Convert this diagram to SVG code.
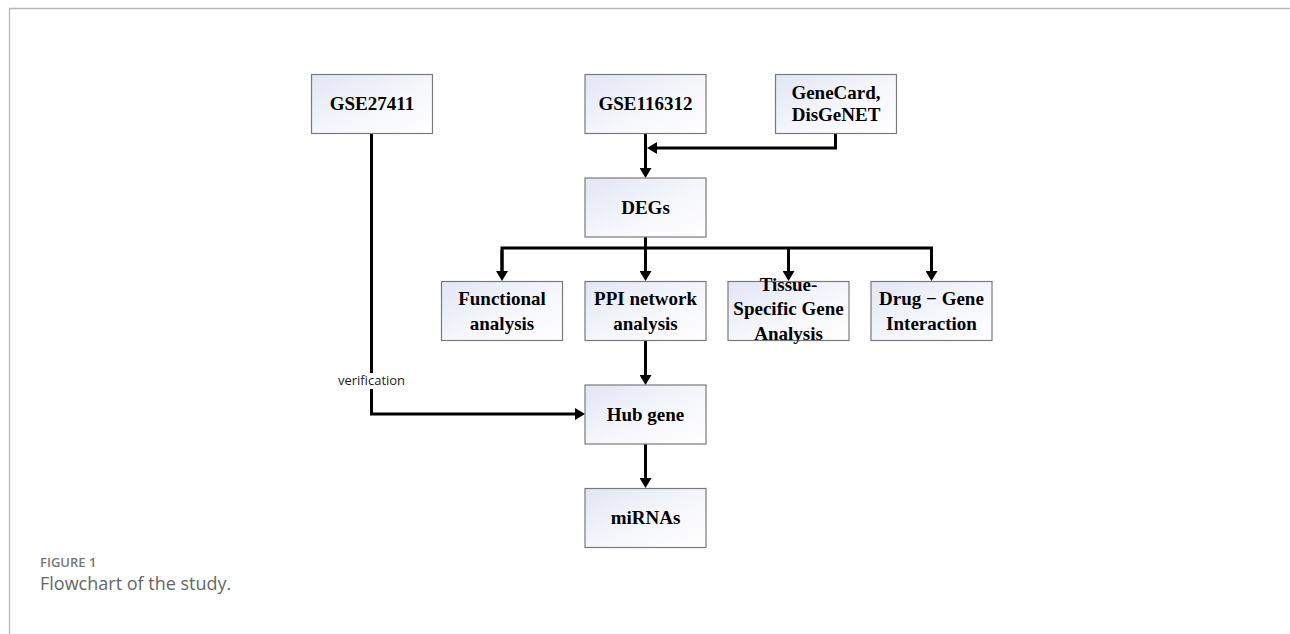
<svg xmlns="http://www.w3.org/2000/svg" width="1290" height="634" viewBox="0 0 1290 634">
  <defs>
    <linearGradient id="boxfill" x1="0" y1="0" x2="1" y2="1">
      <stop offset="0" stop-color="#e2e6f4"/>
      <stop offset="0.55" stop-color="#f6f7fc"/>
      <stop offset="1" stop-color="#ffffff"/>
    </linearGradient>
    <marker id="arrow" viewBox="0 0 10 12" refX="0" refY="6" markerWidth="10" markerHeight="12" markerUnits="userSpaceOnUse" orient="auto">
      <path d="M0,0 L10,6 L0,12 Z" fill="#000"/>
    </marker>
  </defs>
  <style>
    .box { fill: url(#boxfill); stroke: #7a7a7a; stroke-width: 1.2; }
    .lbl { font-family: "Liberation Serif", "Times New Roman", serif; font-weight: bold; font-size: 19px; fill: #000; text-anchor: middle; }
    .conn { fill: none; stroke: #000; stroke-width: 3; }
    .frame { fill: none; stroke: #b8b8b8; stroke-width: 1.3; }
    .note { font-family: "Open Sans", "Noto Sans", sans-serif; font-size: 13px; fill: #222; text-anchor: middle; }
    .fig { font-family: "Open Sans", "Noto Sans", sans-serif; font-size: 13px; font-weight: 600; fill: #777; }
    .cap { font-family: "Open Sans", "Noto Sans", sans-serif; font-size: 18px; fill: #666; }
  </style>
  <rect width="1290" height="634" fill="#ffffff"/>
  <path class="frame" d="M9.5,634 V8.5 H1290"/>

  <g id="connectors">
    <path class="conn" d="M645.5,133 V168" marker-end="url(#arrow)"/>
    <path class="conn" d="M835.5,133 V148 H657" marker-end="url(#arrow)"/>
    <path class="conn" d="M645.5,237 V248"/>
    <path class="conn" d="M502,271 V248 H931.5 V271" marker-end="url(#arrow)"/>
    <path class="conn" d="M502,250 V271" marker-end="url(#arrow)"/>
    <path class="conn" d="M645.5,248 V271" marker-end="url(#arrow)"/>
    <path class="conn" d="M788.5,248 V271" marker-end="url(#arrow)"/>
    <path class="conn" d="M645.5,341 V375" marker-end="url(#arrow)"/>
    <path class="conn" d="M645.5,444 V478" marker-end="url(#arrow)"/>
    <path class="conn" d="M371.5,133 V414 H575" marker-end="url(#arrow)"/>
    <rect x="336" y="373" width="71" height="16" fill="#ffffff"/>
    <text class="note" x="371.5" y="385">verification</text>
  </g>

  <g id="gse27411">
    <rect class="box" x="311.5" y="74.5" width="121" height="59"/>
    <text class="lbl" x="372" y="110">GSE27411</text>
  </g>
  <g id="gse116312">
    <rect class="box" x="585" y="74.5" width="121" height="59"/>
    <text class="lbl" x="645.5" y="110">GSE116312</text>
  </g>
  <g id="genecard">
    <rect class="box" x="775.5" y="74.5" width="121" height="59"/>
    <text class="lbl" x="836" y="99">GeneCard,</text>
    <text class="lbl" x="836" y="121">DisGeNET</text>
  </g>
  <g id="degs">
    <rect class="box" x="585" y="178" width="121" height="59"/>
    <text class="lbl" x="645.5" y="214">DEGs</text>
  </g>
  <g id="functional">
    <rect class="box" x="441.5" y="281.5" width="121" height="59"/>
    <text class="lbl" x="502" y="305">Functional</text>
    <text class="lbl" x="502" y="330">analysis</text>
  </g>
  <g id="ppi">
    <rect class="box" x="585" y="281.5" width="121" height="59"/>
    <text class="lbl" x="645.5" y="305">PPI network</text>
    <text class="lbl" x="645.5" y="330">analysis</text>
  </g>
  <g id="tissue">
    <rect class="box" x="728" y="281.5" width="121" height="59"/>
    <text class="lbl" x="788.5" y="291">Tissue-</text>
    <text class="lbl" x="788.5" y="315">Specific Gene</text>
    <text class="lbl" x="788.5" y="340">Analysis</text>
  </g>
  <g id="drug">
    <rect class="box" x="871" y="281.5" width="121" height="59"/>
    <text class="lbl" x="931.5" y="305">Drug − Gene</text>
    <text class="lbl" x="931.5" y="330">Interaction</text>
  </g>
  <g id="hubgene">
    <rect class="box" x="585" y="385" width="121" height="59"/>
    <text class="lbl" x="645.5" y="421">Hub gene</text>
  </g>
  <g id="mirnas">
    <rect class="box" x="585" y="488.5" width="121" height="59"/>
    <text class="lbl" x="645.5" y="524">miRNAs</text>
  </g>

  <text class="fig" x="40" y="567">FIGURE 1</text>
  <text class="cap" x="40" y="590">Flowchart of the study.</text>
</svg>
